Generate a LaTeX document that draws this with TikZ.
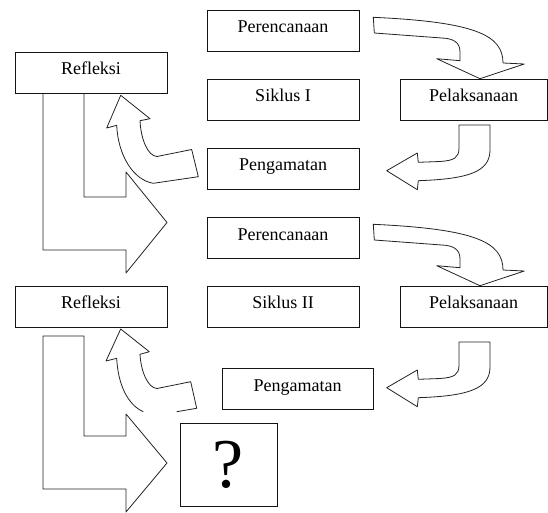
\documentclass[tikz,border=0pt]{standalone}
\usepackage{fontspec}
\setmainfont{Liberation Serif}

\begin{document}
\begin{tikzpicture}[x=1pt,y=-1pt]
\definecolor{my_line}{RGB}{20,20,20}
\definecolor{my_arrow}{RGB}{35,35,35}

\tikzset{kotak/.style={draw=my_line, line width=0.8pt, fill=white, inner sep=0pt,
           minimum width=152pt, minimum height=41pt, text height=12pt, text depth=8pt,
           font=\fontsize{18}{20}\selectfont},
         panah/.style={draw=my_arrow, line width=0.8pt, fill=white, line join=round}}

\useasboundingbox (0,0) rectangle (548,513);

% block arrows
\foreach \dy/\dz in {0/0,207/217} {
    \draw[panah, shift={(0,\dy)}] (373.3,17.3) .. controls (475,22) and (503,35) .. (503,63)
        -- (524.3,64) -- (480,78.7) -- (436.7,58.7) -- (460,60.7) -- (460,52)
        .. controls (460,42) and (453,38.5) .. (441.7,38) -- (374.3,33) -- cycle;
    \draw[panah, shift={(0,\dz)}] (459,125) -- (490,125) -- (490,150)
        .. controls (490,172) and (468,179) .. (418.3,180.7) -- (417.3,189.7)
        -- (386.7,170.7) -- (417.3,153) -- (418.3,162.3) -- (440,161.5)
        .. controls (454,160.5) and (459,158) .. (459,148) -- cycle;
}
\draw[panah] (43,93) -- (43,250) -- (126,250) -- (126,273) -- (167,222.5) -- (126,172)
    -- (126,197) -- (84,197) -- (84,93) -- cycle;
\draw[panah] (43,336) -- (43,489) -- (126,489) -- (126,512) -- (167,463) -- (126,414)
    -- (126,436) -- (84,436) -- (84,336) -- cycle;
\draw[panah] (198.3,176.7) -- (191.7,149.5) -- (157,156.5)
    .. controls (148,156) and (141,140) .. (140,120.7) -- (150,118.7) -- (120.7,95.3)
    -- (106.7,128) -- (116.7,125.3) .. controls (118,155) and (133,180) .. (153.3,183.3) -- cycle;
\fill[white] (196.7,408.3) -- (190.7,381.7) -- (157,388.5)
    .. controls (148,388) and (141,372) .. (140,354.3) -- (149.3,351.7) -- (120.7,329)
    -- (106,361) -- (116.7,358.3) .. controls (118,385) and (128,405) .. (143.3,411.7)
    -- (176.7,411.7) -- cycle;
\draw[panah, fill=none] (176.7,411.7) -- (196.7,408.3) -- (190.7,381.7) -- (157,388.5)
    .. controls (148,388) and (141,372) .. (140,354.3) -- (149.3,351.7) -- (120.7,329)
    -- (106,361) -- (116.7,358.3) .. controls (118,385) and (128,405) .. (143.3,411.7);

% boxes
\foreach \dy/\nr [count=\xi] in {0/I,207/II} {
    \node[kotak] (per\xi) at (283,31+\dy) {Perencanaan};
    \node[kotak] (sik\xi) at (283,99.5+\dy) {Siklus \nr};
    \node[kotak, minimum width=147.4pt] (pel\xi) at (473.7,99.5+\dy) {Pelaksanaan};
}
\node[kotak] (pen1) at (283,169) {Pengamatan};
\node[kotak, minimum width=151pt] (pen2) at (297.5,389) {Pengamatan};
\node[kotak] (ref1) at (91,72.5) {Refleksi};
\node[kotak] (ref2) at (91,306.5) {Refleksi};
\node[kotak, minimum width=97pt, minimum height=83pt, text height=, text depth=,
      font=\fontsize{70}{70}\selectfont] (tanya) at (228.5,465) {?};
\end{tikzpicture}
\end{document}
